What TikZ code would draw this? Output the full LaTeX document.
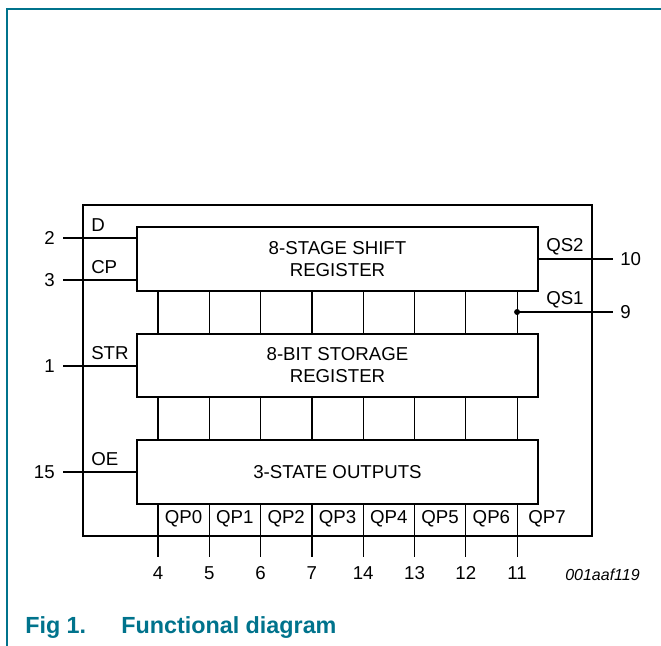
\documentclass[tikz,border=0pt]{standalone}
\usepackage{fontspec}
\setmainfont{Liberation Sans}
\definecolor{nxpteal}{RGB}{0,115,140}
\begin{document}
\begin{tikzpicture}[x=0.75pt,y=-0.75pt,
    chipbox/.style={draw,line width=1.8pt,inner sep=0pt,minimum width=381.75pt,minimum height=248.25pt},
    regbox/.style={draw,line width=1.8pt,fill=white,inner sep=0pt,minimum width=300.75pt,minimum height=48pt,align=center,font=\fontsize{14}{16.5}\selectfont},
    sig/.style={inner sep=0pt,font=\fontsize{14}{16.5}\selectfont},
    wire/.style={line width=0.9pt}]
  \useasboundingbox (0,0) rectangle (661,646);
  % frame
  \draw[nxpteal,line width=1.1pt] (7,646) -- (7,9) -- (661,9);
  % chip and registers
  \node[chipbox] (chip) at (337.5,370.5) {};
  \node[regbox,minimum height=48pt] (sr) at (337.5,259) {8-STAGE SHIFT\\REGISTER};
  \node[regbox,minimum height=47.25pt] (st) at (337.5,365.5) {8-BIT STORAGE\\REGISTER};
  \node[regbox,minimum height=48pt] (out) at (337.5,472) {3-STATE OUTPUTS};
  % inputs
  \foreach \pin/\yy/\nm/\bx in {2/238/D/sr,3/280/CP/sr,1/366/STR/st,15/472/OE/out} {
    \coordinate (l\pin) at (63,\yy);
    \node[sig,anchor=east] (n\pin) at (55,\yy) {\pin};
    \node[sig,anchor=west] (s\pin) at (91,\yy-13) {\nm};
    \draw[wire] (l\pin) -- (\bx.west |- l\pin);
  }
  % parallel lines and outputs
  \foreach \i/\num/\qx in {0/4/183.6,1/5/234.9,2/6/286.2,3/7/337.5,4/14/388.8,5/13/440.1,6/12/491.4,7/11/547} {
    \coordinate (b\i) at ({158+51.3*\i},0);
    \coordinate (p\i) at ({158+51.3*\i},557);
    \draw[wire] (sr.south -| b\i) -- (st.north -| b\i);
    \draw[wire] (st.south -| b\i) -- (out.north -| b\i);
    \draw[wire] (out.south -| b\i) -- (p\i);
    \node[sig] (q\i) at (\qx,519) {QP\i};
    \node[sig] (m\i) at ({158+51.3*\i},573) {\num};
  }
  % serial outputs
  \coordinate (r10) at (613,259);
  \coordinate (r9) at (613,312);
  \coordinate (tap) at (b7 |- r9);
  \draw[wire] (sr.east |- r10) -- (r10);
  \draw[wire] (tap) -- (r9);
  \fill (tap) circle (3);
  \node[sig,anchor=west] (n10) at (620,259) {10};
  \node[sig,anchor=west] (n9) at (620,312) {9};
  \node[sig,anchor=west] (qs2) at (546,247) {QS2};
  \node[sig,anchor=west] (qs1) at (546,300) {QS1};
  % code and caption
  \node[sig,font=\itshape\fontsize{12}{14}\selectfont,anchor=west] (code) at (565,575) {001aaf119};
  \node[inner sep=0pt,text=nxpteal,font=\bfseries\fontsize{17.5}{20}\selectfont,anchor=base west] (fig) at (25,633) {Fig 1.};
  \node[inner sep=0pt,text=nxpteal,font=\bfseries\fontsize{17.5}{20}\selectfont,anchor=base west] (cap) at (121,633) {Functional diagram};
\end{tikzpicture}
\end{document}
